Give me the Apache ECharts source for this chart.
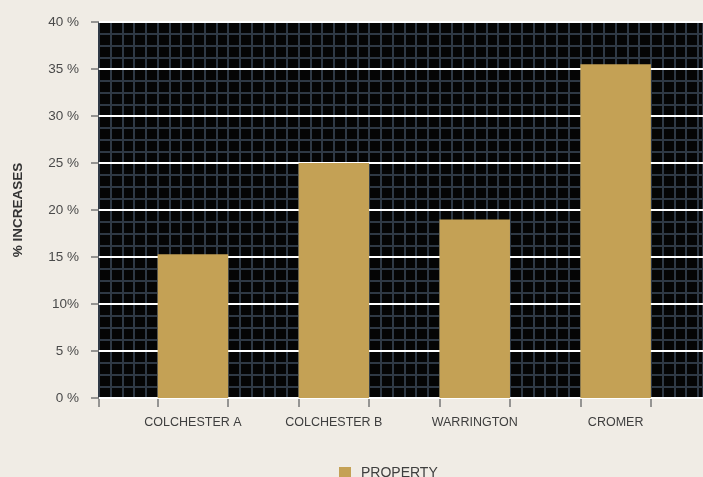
<!DOCTYPE html>
<html>
<head>
<meta charset="utf-8">
<script src="https://cdn.jsdelivr.net/npm/echarts@6/dist/echarts.min.js"></script>
<style>
  html, body { margin: 0; padding: 0; background: #f0ece5; }
  #container { width: 703px; height: 477px; }
</style>
</head>
<body>
<div id="container"></div>
<script>
// data
var categories = ['COLCHESTER A', 'COLCHESTER B', 'WARRINGTON', 'CROMER'];
var propertyValues = [15.3, 25.0, 19.0, 35.5];
var yTickLabels = ['0 %', '5 %', '10%', '15 %', '20 %', '25 %', '30 %', '35 %', '40 %'];

// bars sit on a value x axis at 1..4 so the plot can run past the last bar
var xMin = 1 / 3, xMax = 4.62;
var barTicks = [xMin];
categories.forEach(function (c, i) { barTicks.push(i + 0.75, i + 1.25); });

var chart = echarts.init(document.getElementById('container'));

var option = {};
option.backgroundColor = '#f0ece5';
option.textStyle = { fontFamily: 'Liberation Sans' };
option.grid = [{ left: 99, right: 0, top: 22, bottom: 79, show: true, backgroundColor: '#050505', borderWidth: 0 }];
option.xAxis = [
  {
    type: 'value', min: xMin, max: xMax,
    axisLine: { show: false },
    axisTick: { show: true, length: 9, customValues: barTicks, lineStyle: { color: '#777', width: 1.5 } },
    axisLabel: {
      customValues: [1, 2, 3, 4], margin: 18, color: '#3e3e3e', fontSize: 12.5,
      formatter: function (v) { return categories[Math.round(v) - 1] || ''; }
    },
    splitLine: { show: false }
  },
  {
    // fine vertical grid
    type: 'value', min: xMin, max: xMax, interval: 1 / 12, position: 'bottom',
    axisLine: { show: false }, axisTick: { show: false }, axisLabel: { show: false },
    splitLine: { show: true, lineStyle: { color: '#2f3945', width: 2 } }
  }
];
option.yAxis = [
  {
    type: 'value', min: 0, max: 40, interval: 5, z: 1,
    name: '% INCREASES', nameLocation: 'middle', nameGap: 74, nameRotate: 90,
    nameTextStyle: { fontWeight: 'bold', fontSize: 13.5, color: '#333' },
    axisLine: { show: false },
    axisTick: { show: true, length: 8, lineStyle: { color: '#777', width: 1.5 } },
    axisLabel: {
      margin: 20, color: '#4a4a4a', fontSize: 13.5,
      formatter: function (v) { return yTickLabels[Math.round(v / 5)]; }
    },
    splitLine: { show: true, lineStyle: { color: '#ffffff', width: 2 } }
  },
  {
    // fine horizontal grid
    type: 'value', min: 0, max: 40, interval: 1.25, position: 'left', z: 0,
    axisLine: { show: false }, axisTick: { show: false }, axisLabel: { show: false },
    splitLine: { show: true, lineStyle: { color: '#2f3945', width: 2 } }
  }
];
option.legend = {
  data: ['PROPERTY'], left: 334, top: 461, icon: 'rect', itemWidth: 12, itemHeight: 12, itemGap: 10,
  textStyle: { color: '#3e3e3e', fontSize: 14, padding: [0, 0, 0, 5] }
};
option.series = [{
  name: 'PROPERTY', type: 'bar', xAxisIndex: 0, yAxisIndex: 0, barWidth: 70.5,
  itemStyle: { color: '#c4a155' },
  data: propertyValues.map(function (v, i) { return [i + 1, v]; })
}];

chart.setOption(option);
</script>
</body>
</html>
